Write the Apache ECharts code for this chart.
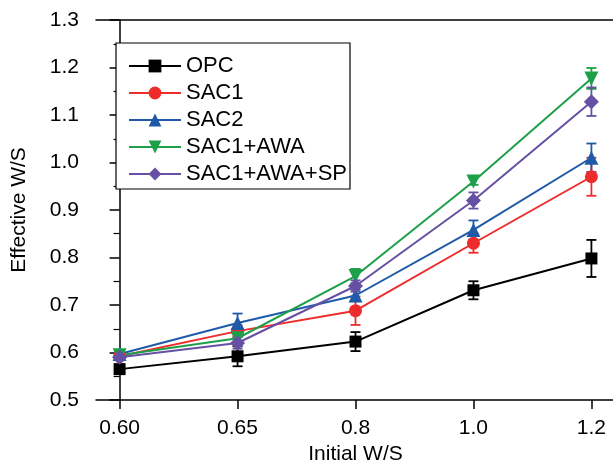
<!DOCTYPE html>
<html><head><meta charset="utf-8">
<script src="https://cdn.jsdelivr.net/npm/echarts@6/dist/echarts.min.js"></script>
<style>html,body{margin:0;padding:0;background:#fff}#c{width:613px;height:461px}</style>
</head><body><div id="c"></div>
<script>
const categories = ['0.60', '0.65', '0.8', '1.0', '1.2'];
const seriesNames = ['OPC', 'SAC1', 'SAC2', 'SAC1+AWA', 'SAC1+AWA+SP'];
const opc = [0.565, 0.592, 0.623, 0.731, 0.798];
const opcErr = [0.008, 0.021, 0.02, 0.019, 0.039];
const sac1 = [0.592, 0.645, 0.688, 0.830, 0.970];
const sac1Err = [0.006, 0.012, 0.03, 0.02, 0.04];
const sac2 = [0.597, 0.662, 0.720, 0.858, 1.010];
const sac2Err = [0.006, 0.02, 0.012, 0.02, 0.03];
const sac1awa = [0.594, 0.630, 0.761, 0.960, 1.177];
const sac1awaErr = [0.006, 0.012, 0.015, 0.007, 0.022];
const sac1awasp = [0.590, 0.620, 0.740, 0.920, 1.128];
const sac1awaspErr = [0.006, 0.012, 0.012, 0.017, 0.03];
const yTicks = [0.5, 0.6, 0.7, 0.8, 0.9, 1.0, 1.1, 1.2, 1.3];

const colors = ['#000000', '#ee2c2c', '#1f5aa8', '#1e9f4a', '#6650a3'];
const symbols = ['rect', 'circle', 'triangle', 'triangle', 'diamond'];
const symbolSizes = [12, 13, 14, 14, 15];
const rotates = [0, 0, 0, 180, 0];
const values = [opc, sac1, sac2, sac1awa, sac1awasp];
const errs = [opcErr, sac1Err, sac2Err, sac1awaErr, sac1awaspErr];
const FONT = 'Liberation Sans, Arial, sans-serif';

const series = [];
values.forEach((vals, k) => {
  series.push({
    type: 'custom',
    z: 3,
    silent: true,
    data: vals.map((v, i) => [i, v, errs[k][i]]),
    renderItem: function (params, api) {
      const x = api.value(0), y = api.value(1), e = api.value(2);
      const hi = api.coord([x, y + e]);
      const lo = api.coord([x, y - e]);
      const cw = 5;
      const st = { stroke: colors[k], lineWidth: 1.8 };
      return { type: 'group', children: [
        { type: 'line', shape: { x1: hi[0], y1: hi[1], x2: lo[0], y2: lo[1] }, style: st },
        { type: 'line', shape: { x1: hi[0] - cw, y1: hi[1], x2: hi[0] + cw, y2: hi[1] }, style: st },
        { type: 'line', shape: { x1: lo[0] - cw, y1: lo[1], x2: lo[0] + cw, y2: lo[1] }, style: st }
      ]};
    }
  });
});
values.forEach((vals, k) => {
  series.push({
    name: seriesNames[k],
    type: 'line',
    z: 4,
    data: vals.map((v, i) => [i, v]),
    symbol: symbols[k],
    symbolSize: symbolSizes[k],
    symbolRotate: rotates[k],
    showAllSymbol: true,
    lineStyle: { color: colors[k], width: 2 },
    itemStyle: { color: colors[k], borderWidth: 0 },
    emphasis: { disabled: true }
  });
});

const chart = echarts.init(document.getElementById('c'), null, { renderer: 'canvas' });
chart.setOption({
  animation: false,
  backgroundColor: '#fff',
  grid: { left: 96, right: -2, top: 20, bottom: 61, containLabel: false, outerBoundsMode: 'none' },
  legend: {
    data: seriesNames,
    orient: 'vertical',
    left: 116, top: 43,
    itemWidth: 52, itemHeight: 16, itemGap: 5,
    backgroundColor: '#fff',
    borderColor: '#000', borderWidth: 1.2,
    padding: [12, 3, 4, 12],
    textStyle: { fontFamily: FONT, fontSize: 22, color: '#000' }
  },
  xAxis: [{
    type: 'value', min: -0.2, max: 4.2,
    name: 'Initial W/S', nameLocation: 'middle', nameGap: 38,
    nameTextStyle: { fontFamily: FONT, fontSize: 21, color: '#000' },
    axisLine: { show: true, lineStyle: { color: '#000', width: 1.5 } },
    axisTick: { show: true, inside: false, length: 9, customValues: [0, 1, 2, 3, 4], lineStyle: { color: '#000', width: 1.5 } },
    axisLabel: { customValues: [0, 1, 2, 3, 4], formatter: v => categories[Math.round(v)], fontFamily: FONT, fontSize: 21, color: '#000', margin: 18 },
    splitLine: { show: false }
  }, {
    type: 'value', min: -0.2, max: 4.2, position: 'top',
    axisLine: { show: true, onZero: false, lineStyle: { color: '#000', width: 1.5 } },
    axisTick: { show: false }, axisLabel: { show: false }, splitLine: { show: false }
  }],
  yAxis: {
    type: 'value', min: 0.5, max: 1.3, interval: 0.1,
    name: 'Effective W/S', nameLocation: 'middle', nameGap: 66, nameRotate: 90,
    nameTextStyle: { fontFamily: FONT, fontSize: 21, color: '#000' },
    axisLine: { show: true, lineStyle: { color: '#000', width: 1.5 } },
    axisTick: { show: true, inside: false, length: 10, lineStyle: { color: '#000', width: 1.5 } },
    minorTick: { show: true, splitNumber: 2, length: 6, lineStyle: { color: '#000', width: 1.2 } },
    axisLabel: { formatter: v => { const t = yTicks.find(a => Math.abs(a - v) < 1e-6); return (t !== undefined ? t : v).toFixed(1); }, fontFamily: FONT, fontSize: 21, color: '#000', margin: 17 },
    splitLine: { show: false }
  },
  series: series
});
</script>
</body></html>
